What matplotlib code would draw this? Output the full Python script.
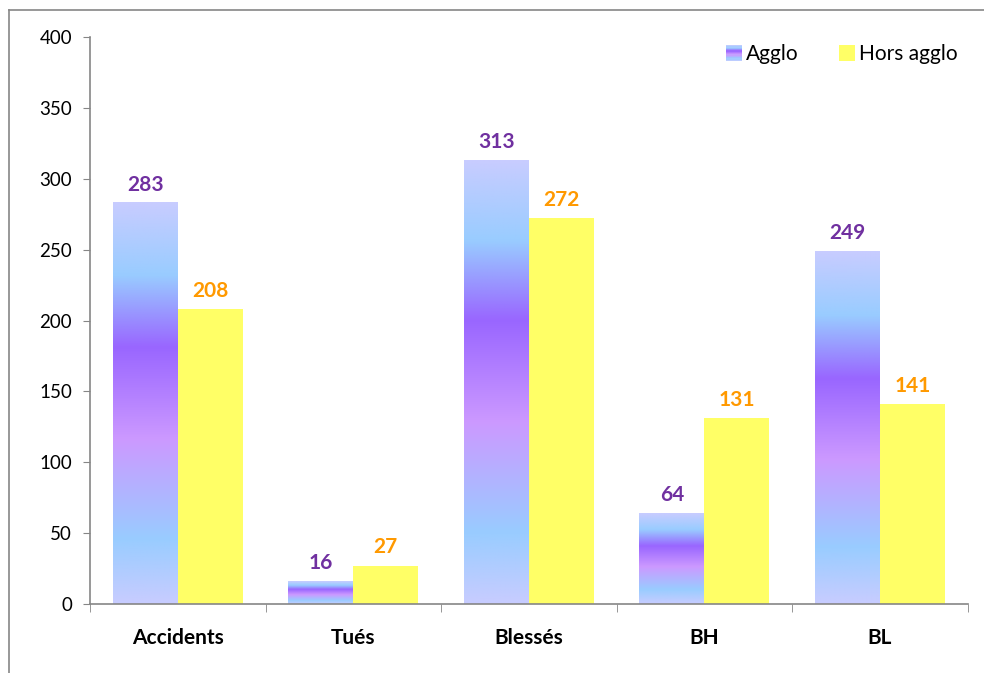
import numpy as np
import matplotlib.pyplot as plt
from matplotlib.patches import Rectangle
from matplotlib.lines import Line2D
from matplotlib.colors import LinearSegmentedColormap
from matplotlib.legend_handler import HandlerBase

plt.rcParams['font.family'] = ['Lato', 'DejaVu Sans']

categories = ['Accidents', 'Tués', 'Blessés', 'BH', 'BL']
agglo = [283, 16, 313, 64, 249]
hors_agglo = [208, 27, 272, 131, 141]

# Excel-like gradient for the Agglo bars (top -> bottom)
grad = LinearSegmentedColormap.from_list('agglo', [
    (0.0, '#C8CCFF'), (0.18, '#99CCFF'), (0.36, '#9966FF'),
    (0.59, '#CC99FF'), (0.84, '#99CCFF'), (1.0, '#C8CCFF')])
grad_img = np.linspace(0, 1, 256).reshape(-1, 1)

fig = plt.figure(figsize=(9.84, 6.73), dpi=100)
ax = fig.add_axes([0.0915, 0.1025, 0.892, 0.8425])

x = np.arange(len(categories))
w = 0.37

bars_a = ax.bar(x - w / 2, agglo, w, color='none', linewidth=0)
for rect in bars_a:
    x0 = rect.get_x()
    ax.imshow(grad_img, cmap=grad, aspect='auto', interpolation='bilinear',
              extent=[x0, x0 + rect.get_width(), 0, rect.get_height()], zorder=2)
bars_h = ax.bar(x + w / 2, hors_agglo, w, color='#FFFF66', linewidth=0, zorder=2)

# value labels
def labelText(rects, col):
    for rect in rects:
        h = rect.get_height()
        ax.annotate('{}'.format(h), xy=(rect.get_x() + rect.get_width() / 2, h),
                    xytext=(0, 6), textcoords='offset points', ha='center', va='bottom',
                    fontsize=15, fontweight='bold', color=col)

labelText(bars_a, '#7030A0')
labelText(bars_h, '#FF9900')

ax.set_xlim(-0.5, len(categories) - 0.5)
ax.set_ylim(0, 400)
ax.set_yticks(range(0, 401, 50))
ax.set_xticks(x)
ax.set_xticklabels(categories, fontsize=15, fontweight='bold')
ax.set_xticks(np.arange(-0.5, len(categories)), minor=True)
ax.tick_params(axis='x', which='major', length=0, pad=17)
ax.tick_params(axis='x', which='minor', length=6, color='#868686')
ax.tick_params(axis='y', length=5, color='#868686', labelsize=13.5, pad=8)

for s in ['top', 'right']:
    ax.spines[s].set_visible(False)
for s in ['left', 'bottom']:
    ax.spines[s].set_color('#868686')
    ax.spines[s].set_linewidth(1.2)


class GradHandler(HandlerBase):
    def create_artists(self, legend, orig_handle, xd, yd, width, height, fontsize, trans):
        n = 12
        s = height * 1.1
        y0 = yd + (height - s) / 2
        arts = []
        for i in range(n):
            c = grad(1 - (i + 0.5) / n)
            arts.append(Rectangle((xd + width - s, y0 + i * s / n), s, s / n,
                                  facecolor=c, edgecolor='none', transform=trans))
        return arts


class SquareHandler(HandlerBase):
    def create_artists(self, legend, orig_handle, xd, yd, width, height, fontsize, trans):
        s = height * 1.1
        y0 = yd + (height - s) / 2
        return [Rectangle((xd + width - s, y0), s, s,
                          facecolor='#FFFF66', edgecolor='none', transform=trans)]


ha = Rectangle((0, 0), 1, 1)
hh = Rectangle((0, 0), 1, 1)
ax.legend([ha, hh], ['Agglo', 'Hors agglo'], loc='upper right', ncol=2, frameon=False,
          fontsize=15, handler_map={ha: GradHandler(), hh: SquareHandler()},
          handlelength=0.8, handletextpad=0.2, columnspacing=1.9,
          bbox_to_anchor=(1.01, 1.02))

# outer chart frame (left and top visible)
fig.add_artist(Line2D([9 / 984, 9 / 984], [0, 1 - 10 / 673], color='#868686', lw=1.2,
                      transform=fig.transFigure))
fig.add_artist(Line2D([9 / 984, 1], [1 - 10 / 673, 1 - 10 / 673], color='#868686', lw=1.2,
                      transform=fig.transFigure))

fig.savefig('out.png', dpi=100)
